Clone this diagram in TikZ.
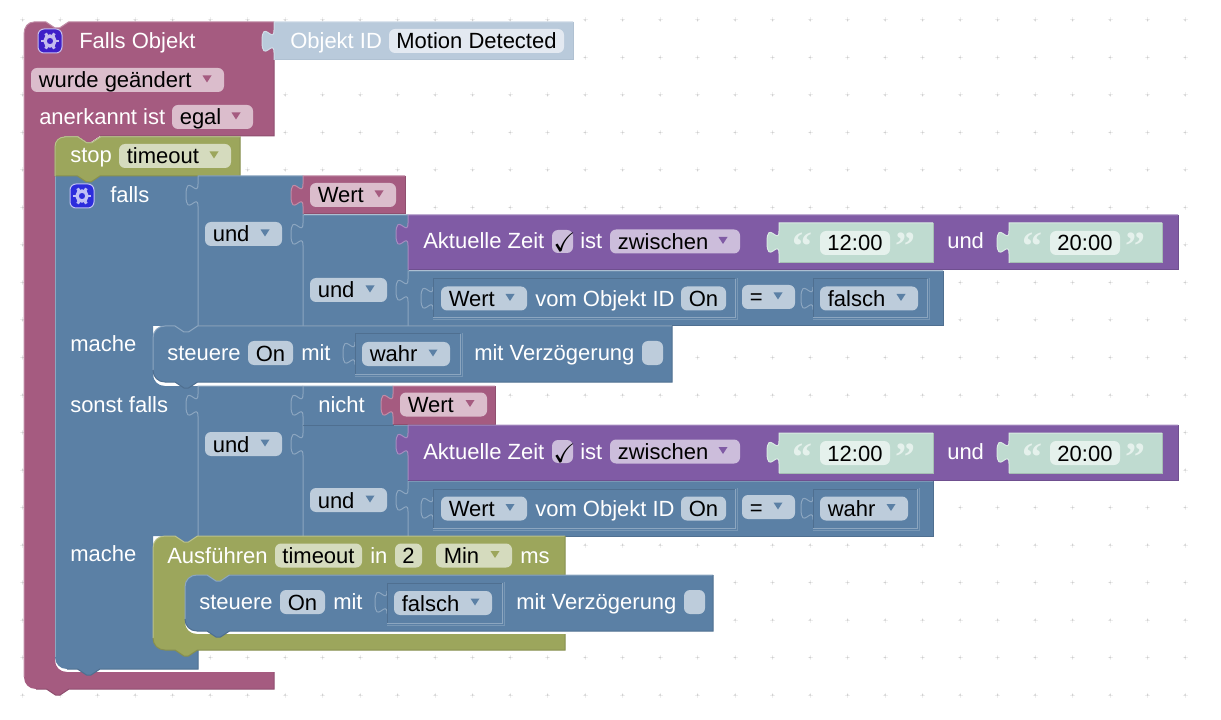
\documentclass[tikz,border=0pt]{standalone}
\usepackage{amssymb}
\usepackage{fontspec}
\setmainfont{Liberation Sans}
\newfontfamily\quotefont{Liberation Serif}

\definecolor{pinkfill}{HTML}{A55B80}
\definecolor{pinklight}{HTML}{C08CA6}
\definecolor{pinkdark}{HTML}{8F4F6F}
\definecolor{pinkfield}{HTML}{DBBDCC}
\definecolor{bluefill}{HTML}{5B80A5}
\definecolor{bluelight}{HTML}{8CA6C0}
\definecolor{bluedark}{HTML}{4F6F90}
\definecolor{bluefield}{HTML}{BDCCDB}
\definecolor{greenfill}{HTML}{9CA65C}
\definecolor{greenlight}{HTML}{BAC18D}
\definecolor{greendark}{HTML}{878F4F}
\definecolor{greenfield}{HTML}{D5DBBE}
\definecolor{purplefill}{HTML}{805BA5}
\definecolor{purplelight}{HTML}{A68CC0}
\definecolor{purpledark}{HTML}{6F4F8F}
\definecolor{purplefield}{HTML}{CCBDDB}
\definecolor{tealfill}{HTML}{BFDBD0}
\definecolor{teallight}{HTML}{D9EAE3}
\definecolor{tealdark}{HTML}{A6BEB4}
\definecolor{tealfield}{HTML}{E5F1EC}
\definecolor{objfill}{HTML}{B9CADB}
\definecolor{objlight}{HTML}{D0DCE8}
\definecolor{objdark}{HTML}{B0C1D2}
\definecolor{objfield}{HTML}{E3E9F1}
\definecolor{gridarm}{HTML}{EFEFEF}
\definecolor{griddot}{HTML}{CFCFCF}
\definecolor{gearpink}{HTML}{3E1FC8}
\definecolor{gearblue}{HTML}{2C2CDC}

\tikzset{
  edge/.style={line width=0.75pt},
  blocktext/.style={anchor=base west,inner sep=0pt,text=white,font=\fontsize{16.5}{20}\selectfont},
  fieldtext/.style={anchor=base west,inner sep=0pt,text=black,font=\fontsize{16.5}{20}\selectfont},
  quotetext/.style={anchor=base west,inner sep=0pt,text=tealfield,font=\quotefont\bfseries\fontsize{30}{30}\selectfont},
}

% puzzle pieces, written as path parts
\newcommand{\notchright}{-- ++(9,6) -- ++(4.5,0) -- ++(9,-6)}
\newcommand{\notchleft}{-- ++(-9,6) -- ++(-4.5,0) -- ++(-9,-6)}
\newcommand{\tabup}{.. controls +(0,-15) and +(0,23.25) .. ++(-12,-11.25) .. controls +(0,-23.25) and +(0,15) .. ++(12,-11.25)}

% family, x1, y1, x2, y2
\newcommand{\valueblock}[5]{
  \path [fill=#1fill] (#2,#3) -- (#4,#3) -- (#4,#5) -- (#2,#5) -- (#2,#3+30.5) \tabup -- cycle;
  \draw [#1dark,edge] (#4,#3) -- (#4,#5) -- (#2,#5);
  \draw [#1light,edge] (#2,#5) -- (#2,#3+30.5) \tabup -- (#2,#3) -- (#4,#3);
}
% x1, y1, x2, y2
\newcommand{\insetblock}[4]{
  \draw [bluelight,edge] (#1,#2+30.5) \tabup;
  \draw [bluedark,edge] (#1,#4) -- (#1,#2) -- (#3,#2);
  \draw [bluelight,edge] (#3,#2) -- (#3,#4) -- (#1,#4);
  \draw [bluelight!60!bluefill,edge] (#3+2,#2-1) -- (#3+2,#4+2) -- (#1,#4+2);
}
% name, family, x1, x2, y centre, text
\newcommand{\ddfield}[6]{
  \fill [#2field,rounded corners=4.5pt] (#3,#5-12) rectangle (#4,#5+12);
  \fill [#2fill] (#4-21.5,#5-4.5) -- (#4-12.5,#5-4.5) -- (#4-17,#5+2.5) -- cycle;
  \node [fieldtext] (#1) at (#3+7.5,#5+8) {#6};
}
\newcommand{\txfield}[6]{
  \fill [#2field,rounded corners=4.5pt] (#3,#5-12) rectangle (#4,#5+12);
  \node [fieldtext,anchor=base] (#1) at ({(#3+#4)/2},#5+8) {#6};
}
% name, text, x, baseline
\newcommand{\blocklabel}[4]{\node [blocktext] (#1) at (#3,#4) {#2};}
% x, y, colour
\newcommand{\gearicon}[3]{
  \filldraw [fill=#3,draw=white!70!#3,edge,rounded corners=4.5pt] (#1,#2) rectangle (#1+24,#2+24);
  \draw [white!70!#3,line width=2.5pt] (#1+12,#2+12) circle [radius=5];
  \foreach \a in {0,60,...,300}
    \draw [white!70!#3,line width=2.2pt] (#1+12,#2+12) ++(\a:6) -- ++(\a:2.8);
}

\begin{document}
\begin{tikzpicture}[x=0.75pt,y=0.75pt,yscale=-1,xscale=1]
\useasboundingbox (0,0) rectangle (1221,720);

%Grid of the workspace
\foreach \i in {0,...,31}
  \foreach \j in {0,...,18}{
    \draw [gridarm,edge] (22.7+37.5*\i-2.5,20+37.5*\j) -- ++(5,0) (22.7+37.5*\i,20+37.5*\j-2.5) -- ++(0,5);
    \fill [griddot] (22.7+37.5*\i,20+37.5*\j) circle [radius=1];
  }

%Shape: Falls Objekt
\path [fill=pinkfill] (34,22) -- (46,22) \notchright -- (274,22) -- (274,136) -- (100,136) \notchleft -- (65,136) -- (55,146) -- (55,660) .. controls (55,667) and (60,672) .. (67,672) -- (274,672) -- (274,689) -- (69,689) \notchleft -- (36,689) .. controls (29,689) and (24,684) .. (24,677) -- (24,34) .. controls (24,27) and (28,22) .. (34,22) -- cycle;
\draw [pinklight,edge] (24,677) -- (24,34) .. controls (24,27) and (28,22) .. (34,22) -- (46,22) \notchright -- (274,22);
\draw [pinkdark,edge] (274,22) -- (274,136) -- (100,136) (274,672) -- (274,689) -- (69,689) \notchleft -- (36,689);

%Shape: falls
\path [fill=bluefill] (55,176) -- (198,176) -- (198,326) -- (197.5,326) \notchleft -- (153,326) -- (153,374) .. controls (153,381) and (158,386) .. (165,386) -- (198,386) -- (198,536) -- (197.5,536) \notchleft -- (153,536) -- (153,638) .. controls (153,645) and (158,650) .. (165,650) -- (198,650) -- (198,669) -- (100,669) \notchleft -- (67,669) .. controls (60,669) and (55,664) .. (55,657) -- cycle;
\draw [bluelight,edge] (55,657) -- (55,176) -- (198,176);
\draw [bluedark,edge] (198,650) -- (198,669) -- (100,669) \notchleft -- (67,669);

%Shape: stop
\path [fill=greenfill,draw=greendark,edge] (55,147) .. controls (55,141) and (59,137) .. (65,137) -- (78,137) \notchright -- (240,137) -- (240,176) -- (100,176) \notchleft -- (55,176) -- cycle;
\draw [greenlight,edge] (55,176) -- (55,147) .. controls (55,141) and (59,137) .. (65,137) -- (78,137) \notchright -- (240,137);

%Shape: Objekt ID
\valueblock{obj}{274}{22}{573}{60}

%Shape: und
\valueblock{blue}{198}{176}{303}{326}
\valueblock{blue}{303}{215}{408}{326}
\valueblock{pink}{303}{176}{405}{214}
\valueblock{blue}{408}{271}{943}{326}
\valueblock{blue}{198}{386}{303}{536}
\valueblock{blue}{303}{425}{408}{536}
\valueblock{blue}{303}{386}{393}{425}
\valueblock{pink}{393}{386}{495}{424}
\valueblock{blue}{408}{481}{933}{536}

%Shape: Aktuelle Zeit
\foreach \y/\id in {215/a,425/b}{
  \valueblock{purple}{408}{\y}{1178}{\y+55}
  \valueblock{teal}{779}{\y+8}{933}{\y+48}
  \valueblock{teal}{1009}{\y+8}{1162}{\y+48}
  \blocklabel{zeit\id}{Aktuelle Zeit}{423}{\y+34}
  \fill [purplefield,rounded corners=4.5pt] (552,\y+15) rectangle (573,\y+38);
  \node [fieldtext,font=\fontsize{20}{20}\selectfont] (check\id) at (553,\y+37) {$\checkmark$};
  \blocklabel{ist\id}{ist}{580}{\y+34}
  \ddfield{zwischen\id}{purple}{610}{740}{\y+26.5}{zwischen}
  \node [quotetext] (quoteA\id) at (792,\y+45) {“};
  \txfield{start\id}{teal}{820}{890}{\y+28}{12:00}
  \node [quotetext] (quoteB\id) at (895,\y+45) {”};
  \blocklabel{undzeit\id}{und}{947}{\y+34}
  \node [quotetext] (quoteC\id) at (1022,\y+45) {“};
  \txfield{end\id}{teal}{1050}{1120}{\y+28}{20:00}
  \node [quotetext] (quoteD\id) at (1125,\y+45) {”};
}

%Shape: steuere
\path [fill=bluefill] (153,338) .. controls (153,331) and (158,326) .. (165,326) -- (175,326) \notchright -- (672,326) -- (672,382) -- (197.5,382) \notchleft -- (165,382) .. controls (158,382) and (153,377) .. (153,370) -- cycle;
\draw [bluelight,edge] (153,370) -- (153,338) .. controls (153,331) and (158,326) .. (165,326) -- (175,326) \notchright -- (672,326);
\draw [bluedark,edge] (672,326) -- (672,382) -- (197.5,382) \notchleft -- (165,382) .. controls (158,382) and (153,377) .. (153,370);

%Shape: Ausfuehren
\path [fill=greenfill] (153,548) .. controls (153,541) and (158,536) .. (165,536) -- (175,536) \notchright -- (565,536) -- (565,575) -- (229.5,575) \notchleft -- (197,575) .. controls (190,575) and (185,580) .. (185,587) -- (185,622) .. controls (185,629) and (190,634) .. (197,634) -- (565,634) -- (565,650) -- (197.5,650) \notchleft -- (165,650) .. controls (158,650) and (153,645) .. (153,638) -- cycle;
\draw [greenlight,edge] (153,638) -- (153,548) .. controls (153,541) and (158,536) .. (165,536) -- (175,536) \notchright -- (565,536);
\draw [greendark,edge] (565,536) -- (565,575) -- (229.5,575) (565,634) -- (565,650) -- (197.5,650) \notchleft -- (165,650) .. controls (158,650) and (153,645) .. (153,638);

%Shape: steuere inside Ausfuehren
\path [fill=bluefill] (185,587) .. controls (185,580) and (190,575) .. (197,575) -- (207,575) \notchright -- (713,575) -- (713,631) -- (229.5,631) \notchleft -- (197,631) .. controls (190,631) and (185,626) .. (185,619) -- cycle;
\draw [bluelight,edge] (185,619) -- (185,587) .. controls (185,580) and (190,575) .. (197,575) -- (207,575) \notchright -- (713,575);
\draw [bluedark,edge] (713,575) -- (713,631) -- (229.5,631) \notchleft -- (197,631) .. controls (190,631) and (185,626) .. (185,619);

%Inputs that are plugged with blocks of the same colour
\insetblock{433}{279}{735}{318}
\insetblock{813}{279}{927}{318}
\insetblock{433}{489}{735}{528}
\insetblock{813}{489}{917}{528}
\insetblock{355}{334}{460}{374}
\insetblock{387}{583}{502}{623}

%Icons
\gearicon{38}{29}{gearpink}
\gearicon{70}{184}{gearblue}

% Text Node
\blocklabel{fallsobjekt}{Falls Objekt}{79}{49}
\blocklabel{objektid}{Objekt ID}{290}{49}
\txfield{motion}{obj}{389}{564}{41}{Motion Detected}
\ddfield{geaendert}{pink}{31}{224}{80}{wurde geändert}
\blocklabel{anerkannt}{anerkannt ist}{39}{125}
\ddfield{egal}{pink}{172}{253}{117}{egal}
\blocklabel{stop}{stop}{70}{163}
\ddfield{timeoutstop}{green}{119}{231}{156}{timeout}
\blocklabel{falls}{falls}{110}{203}
\ddfield{werta}{pink}{310}{396}{195}{Wert}
\ddfield{unda}{blue}{205}{282}{234}{und}
\ddfield{undb}{blue}{310}{387}{290}{und}
\ddfield{wertb}{blue}{441}{527}{298.5}{Wert}
\blocklabel{vomobjekta}{vom Objekt ID}{535}{306}
\txfield{ona}{blue}{681}{726}{298.5}{On}
\ddfield{gleicha}{blue}{742}{795}{297}{=}
\ddfield{falschwert}{blue}{820}{918}{298.5}{falsch}
\blocklabel{machea}{mache}{70}{351}
\blocklabel{steuerea}{steuere}{167}{360}
\txfield{onb}{blue}{248}{293}{353}{On}
\blocklabel{mita}{mit}{301}{360}
\ddfield{wahrwert}{blue}{362}{450}{354}{wahr}
\blocklabel{verzoegerunga}{mit Verzögerung}{474}{360}
\fill [bluefield,rounded corners=4.5pt] (642,341) rectangle (663,365);
\blocklabel{sonstfalls}{sonst falls}{70}{412}
\blocklabel{nicht}{nicht}{318}{412}
\ddfield{wertc}{pink}{400}{487}{404.5}{Wert}
\ddfield{undc}{blue}{205}{282}{444}{und}
\ddfield{undd}{blue}{310}{387}{500}{und}
\ddfield{wertd}{blue}{441}{527}{508.5}{Wert}
\blocklabel{vomobjektb}{vom Objekt ID}{535}{516}
\txfield{onc}{blue}{681}{726}{508.5}{On}
\ddfield{gleichb}{blue}{742}{795}{507}{=}
\ddfield{wahrvergleich}{blue}{820}{908}{508.5}{wahr}
\blocklabel{macheb}{mache}{70}{561}
\blocklabel{ausfuehren}{Ausführen}{167}{563}
\txfield{timeoutrun}{green}{275}{362}{555.5}{timeout}
\blocklabel{in}{in}{370}{563}
\txfield{zwei}{green}{395}{422}{555.5}{2}
\ddfield{min}{green}{436}{512}{555.5}{Min}
\blocklabel{ms}{ms}{520}{563}
\blocklabel{steuereb}{steuere}{199}{609}
\txfield{ond}{blue}{280}{325}{602}{On}
\blocklabel{mitb}{mit}{333}{609}
\ddfield{falschwertb}{blue}{394}{492}{603}{falsch}
\blocklabel{verzoegerungb}{mit Verzögerung}{516}{609}
\fill [bluefield,rounded corners=4.5pt] (684,590) rectangle (705,614);

\end{tikzpicture}
\end{document}
